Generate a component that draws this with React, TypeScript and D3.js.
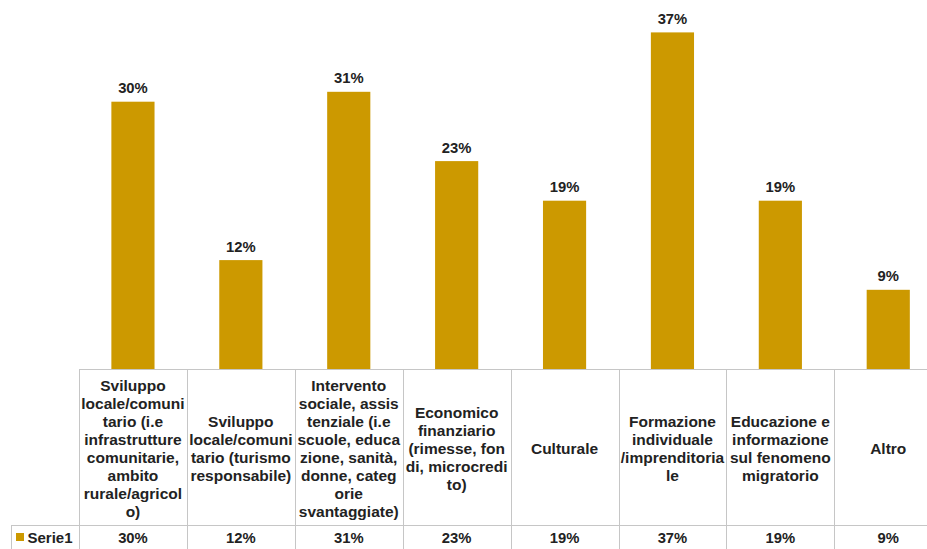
import React from "react";
import * as d3 from "d3";

const categories: string[] = [
  "Sviluppo\nlocale/comuni\ntario (i.e\ninfrastrutture\ncomunitarie,\nambito\nrurale/agricol\no)",
  "Sviluppo\nlocale/comuni\ntario (turismo\nresponsabile)",
  "Intervento\nsociale, assis\ntenziale (i.e\nscuole, educa\nzione, sanità,\ndonne, categ\norie\nsvantaggiate)",
  "Economico\nfinanziario\n(rimesse, fon\ndi, microcredi\nto)",
  "Culturale",
  "Formazione\nindividuale\n/imprenditoria\nle",
  "Educazione e\ninformazione\nsul fenomeno\nmigratorio",
  "Altro",
];
const seriesName = "Serie1";
const values: number[] = [29.7, 12.1, 30.8, 23.1, 18.7, 37.4, 18.7, 8.8];

const W = 927;
const H = 549;
const BAR = "#CC9900";
const GRID = "#c6c6c6";
const TXT = "#222222";
const FONT = "'Liberation Sans', Arial, sans-serif";

export default function App() {
  const tableLeft = 79;
  const step = 107.9;
  const baseline = 369;
  const rowTop = 525;
  const x = d3
    .scaleBand<number>()
    .domain(d3.range(categories.length))
    .range([tableLeft, tableLeft + step * categories.length])
    .paddingInner(0.6)
    .paddingOuter(0.3);
  const y = d3.scaleLinear().domain([0, 40]).range([baseline, baseline - 360]);
  const colStart = (i: number) => tableLeft + step * i;
  const fmt = (v: number) => `${Math.round(v)}%`;

  return (
    <svg
      width={W}
      height={H}
      style={{ position: "absolute", left: 0, top: 0, background: "#fff" }}
      fontFamily={FONT}
    >
      {/* bars */}
      {values.map((v, i) => (
        <rect
          key={"b" + i}
          x={x(i)!}
          y={y(v)}
          width={x.bandwidth()}
          height={baseline - y(v)}
          fill={BAR}
        />
      ))}
      {/* bar labels */}
      {values.map((v, i) => (
        <text
          key={"l" + i}
          x={x(i)! + x.bandwidth() / 2}
          y={y(v) - 8.5}
          textAnchor="middle"
          fontSize={14.8}
          fontWeight="bold"
          fill={TXT}
        >
          {fmt(v)}
        </text>
      ))}
      {/* table grid */}
      <line x1={tableLeft} x2={W} y1={baseline + 0.5} y2={baseline + 0.5} stroke={GRID} />
      <line x1={11} x2={W} y1={rowTop + 0.5} y2={rowTop + 0.5} stroke={GRID} />
      <line x1={11.5} x2={11.5} y1={rowTop} y2={H} stroke={GRID} />
      {d3.range(categories.length + 1).map((i) => (
        <line
          key={"v" + i}
          x1={Math.round(colStart(i)) + 0.5}
          x2={Math.round(colStart(i)) + 0.5}
          y1={baseline}
          y2={H}
          stroke={GRID}
        />
      ))}
      {/* category labels */}
      {categories.map((c, i) => {
        const lines = c.split("\n");
        const cx = colStart(i) + step / 2;
        return (
          <text
            key={"c" + i}
            textAnchor="middle"
            fontSize={15.5}
            fontWeight="bold"
            fill={TXT}
          >
            {lines.map((ln, j) => (
              <tspan key={j} x={cx} y={454 + (j - (lines.length - 1) / 2) * 18}>
                {ln}
              </tspan>
            ))}
          </text>
        );
      })}
      {/* data row */}
      <rect x={16} y={533} width={8} height={8} fill={BAR} />
      <text x={27.5} y={542.5} fontSize={15} fontWeight="bold" fill={TXT}>
        {seriesName}
      </text>
      {values.map((v, i) => (
        <text
          key={"d" + i}
          x={colStart(i) + step / 2}
          y={542.5}
          textAnchor="middle"
          fontSize={14.8}
          fontWeight="bold"
          fill={TXT}
        >
          {fmt(v)}
        </text>
      ))}
    </svg>
  );
}
